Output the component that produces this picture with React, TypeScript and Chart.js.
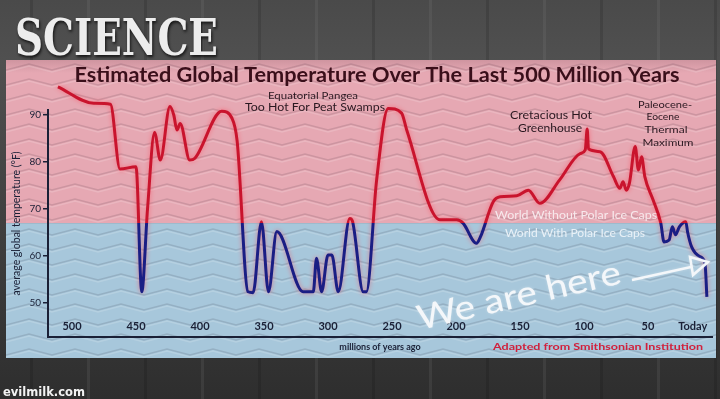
import { useEffect, useRef } from 'react';
import { Chart, registerables } from 'chart.js';

Chart.register(...registerables);

// ---------- data ----------
const millionsOfYearsAgo = [
  511, 483, 470, 462.5, 450, 445.5, 441, 435.5, 431, 423.5, 420.5, 418, 415.5, 408, 404,
  383, 375, 371, 362.5, 358.5, 352, 346.5, 340, 319.5, 311.5, 309, 305, 300, 297, 292,
  283, 281, 272.5, 270, 262, 253, 242.5, 238.5, 212.5, 199.5, 194.5, 184, 181, 171, 165.5,
  152.5, 143.5, 134.5, 119, 103, 99, 97.5, 96.5, 87.5, 77, 72, 69.5, 67, 64.5, 60, 57.5,
  55, 52.5, 46, 40, 37.5, 33.5, 31, 28.5, 25.5, 20.5, 19, 16, 9.5, 5.5, 4,
];
const temperatureF = [
  96, 92.5, 92.3, 78.5, 79, 52.4, 70, 86.3, 80.4, 91.8, 90, 86.8, 88.2, 80.4, 80.8,
  90.8, 89.3, 84.5, 52.4, 52.2, 67.3, 52.4, 65.2, 52.4, 52.4, 59.5, 52.4, 60.2, 60.2, 52.4,
  68, 67.5, 52.4, 52.4, 76.2, 91.4, 90.4, 86.8, 67.7, 67.7, 67, 62.7, 64, 71.5, 72.6,
  72.8, 74, 71.2, 76.2, 81.8, 82.6, 87, 82.8, 82.2, 76.9, 74.4, 75.8, 74, 75.5, 83.3, 78.3,
  81.1, 76.9, 71.9, 67, 63, 63.4, 66.2, 64.5, 66.2, 67.3, 65, 62, 59.9, 58.5, 51.3,
];
const xTickValues = [500, 450, 400, 350, 300, 250, 200, 150, 100, 50];
const todayTickValue = 15;
const todayLabel = 'Today';
const yTickValues = [50, 60, 70, 80, 90];
const iceCapThresholdF = 67;

const titleText = 'Estimated Global Temperature Over The Last 500 Million Years';
const xAxisTitle = 'millions of years ago';
const yAxisTitle = 'average global temperature (°F)';
const sourceText = 'Adapted from Smithsonian Institution';

// ---------- styles ----------
const RED = '#c9142d';
const NAVY = '#1a1e84';
const PINK = '#e6a8b3';
const BLUE = '#a7c7db';
const INK = '#1a2036';
const PANEL = { left: 6, top: 60, right: 716, bottom: 358 };

function fitText(
  ctx: CanvasRenderingContext2D,
  text: string,
  x: number,
  y: number,
  width: number,
  font: string,
  color: string,
  align: CanvasTextAlign = 'center',
  angle = 0,
) {
  ctx.save();
  ctx.font = font;
  ctx.fillStyle = color;
  ctx.textBaseline = 'alphabetic';
  ctx.textAlign = align;
  const w = ctx.measureText(text).width || 1;
  ctx.translate(x, y);
  ctx.rotate(angle);
  ctx.scale(width / w, 1);
  ctx.fillText(text, 0, 0);
  ctx.restore();
}

const backdropPlugin = {
  id: 'backdrop',
  beforeDraw(chart: any) {
    const { ctx, width, height, scales } = chart;
    const yIce = scales.y.getPixelForValue(iceCapThresholdF);
    ctx.save();
    const g = ctx.createLinearGradient(0, 0, 0, height);
    g.addColorStop(0, '#4a4a4a');
    g.addColorStop(0.15, '#505050');
    g.addColorStop(1, '#2e2e2e');
    ctx.fillStyle = g;
    ctx.fillRect(0, 0, width, height);
    // vertical streaks
    ctx.globalAlpha = 0.12;
    for (let x = 30; x < width; x += 57) {
      ctx.fillStyle = (x / 57) % 2 < 1 ? '#000' : '#999';
      ctx.fillRect(x, 0, 3, height);
    }
    ctx.globalAlpha = 1;

    // panel
    const pw = PANEL.right - PANEL.left;
    const pg = ctx.createLinearGradient(0, PANEL.top, 0, yIce);
    pg.addColorStop(0, '#cf95a0');
    pg.addColorStop(0.08, PINK);
    pg.addColorStop(1, PINK);
    ctx.fillStyle = pg;
    ctx.fillRect(PANEL.left, PANEL.top, pw, yIce - PANEL.top);
    ctx.fillStyle = BLUE;
    ctx.fillRect(PANEL.left, yIce, pw, PANEL.bottom - yIce);

    // zigzag texture
    ctx.beginPath();
    ctx.rect(PANEL.left, PANEL.top, pw, PANEL.bottom - PANEL.top);
    ctx.clip();
    const drawRows = (color: string, dy: number) => {
      ctx.strokeStyle = color;
      ctx.lineWidth = 1.6;
      for (let ry = PANEL.top + 10; ry < PANEL.bottom + 12; ry += 15) {
        ctx.beginPath();
        let k = 0;
        for (let x = PANEL.left - 46; x < PANEL.right + 46; x += 23, k++) {
          const y = ry + dy + (k % 2 === 0 ? 0 : -6);
          if (k === 0) ctx.moveTo(x, y);
          else ctx.lineTo(x, y);
        }
        ctx.stroke();
      }
    };
    drawRows('rgba(255,255,255,0.16)', 2);
    drawRows('rgba(30,20,40,0.13)', 0);
    ctx.restore();

    // SCIENCE heading
    ctx.save();
    ctx.shadowColor = 'rgba(0,0,0,0.75)';
    ctx.shadowBlur = 3;
    ctx.shadowOffsetX = 1;
    ctx.shadowOffsetY = 2;
    fitText(ctx, 'SCIENCE', 15, 55, 203, 'bold 50px "DejaVu Serif"', '#ededed', 'left');
    ctx.restore();

    fitText(ctx, 'evilmilk.com', 3, 396, 82, 'bold 12px "DejaVu Sans"', '#f2f2f2', 'left');
  },
  beforeDatasetsDraw(chart: any) {
    const { ctx } = chart;
    ctx.save();
    ctx.shadowColor = 'rgba(255,60,80,0.55)';
    ctx.shadowBlur = 5;
  },
  afterDatasetsDraw(chart: any) {
    chart.ctx.restore();
  },
  afterDraw(chart: any) {
    const { ctx } = chart;
    ctx.save();
    // main title
    fitText(ctx, titleText, 377, 82, 605, 'bold 20px Lato', '#3a0f1a');
    // annotations
    const dark = '#2a1820';
    fitText(ctx, 'Equatorial Pangea', 313, 99, 90, '10px Lato', dark);
    fitText(ctx, 'Too Hot For Peat Swamps', 315, 111, 140, '11px Lato', dark);
    fitText(ctx, 'Cretacious Hot', 551, 119, 82, '10.5px Lato', dark);
    fitText(ctx, 'Greenhouse', 550, 132, 64, '10.5px Lato', dark);
    fitText(ctx, 'Paleocene-', 665, 108, 54, '10px Lato', dark);
    fitText(ctx, 'Eocene', 663, 120, 33, '10px Lato', dark);
    fitText(ctx, 'Thermal', 666, 133, 43, '10px Lato', dark);
    fitText(ctx, 'Maximum', 668, 146, 51, '10px Lato', dark);
    fitText(ctx, 'World Without Polar Ice Caps', 576, 219, 162, '11px Lato', '#f7e9ec');
    fitText(ctx, 'World With Polar Ice Caps', 575, 237, 140, '11px Lato', '#e9f1f7');
    fitText(ctx, sourceText, 598, 350, 210, 'bold 9.5px Lato', '#d0203c');

    // "We are here" + arrow
    ctx.shadowColor = 'rgba(255,255,255,0.35)';
    ctx.shadowBlur = 3;
    fitText(ctx, 'We are here', 420, 330, 208, '34px Lato', '#f4f7fa', 'left', (-13 * Math.PI) / 180);
    ctx.strokeStyle = '#f4f7fa';
    ctx.lineWidth = 2.5;
    ctx.lineJoin = 'miter';
    ctx.beginPath();
    ctx.moveTo(632, 280);
    ctx.lineTo(691, 267);
    ctx.stroke();
    ctx.beginPath();
    ctx.moveTo(690, 257);
    ctx.lineTo(708, 262);
    ctx.lineTo(693, 275);
    ctx.closePath();
    ctx.stroke();
    ctx.restore();
  },
};

export default function App() {
  const canvasRef = useRef<HTMLCanvasElement | null>(null);

  useEffect(() => {
    document.body.style.margin = '0';
    const canvas = canvasRef.current;
    if (!canvas) return;

    const lineColor = (c: any) => {
      const chart = c.chart;
      const { chartArea, scales } = chart;
      if (!chartArea) return RED;
      const y = scales.y.getPixelForValue(iceCapThresholdF);
      const s = Math.min(Math.max(y / chart.height, 0), 1);
      const g = chart.ctx.createLinearGradient(0, 0, 0, chart.height);
      g.addColorStop(0, RED);
      g.addColorStop(s, RED);
      g.addColorStop(s, NAVY);
      g.addColorStop(1, NAVY);
      return g;
    };

    const chart = new Chart(canvas, {
      type: 'line',
      data: {
        datasets: [
          {
            label: 'Estimated global temperature (°F)',
            data: millionsOfYearsAgo.map((t, i) => ({ x: t, y: temperatureF[i] })),
            borderColor: lineColor,
            borderWidth: 3,
            pointRadius: 0,
            fill: false,
            cubicInterpolationMode: 'monotone',
            clip: false as any,
          },
        ],
      },
      options: {
        responsive: false,
        animation: false,
        events: [],
        layout: { padding: { left: 8, right: 8, top: 110, bottom: 42 } },
        plugins: {
          legend: { display: false },
          tooltip: { enabled: false },
          title: { display: false },
        },
        scales: {
          x: {
            type: 'linear',
            reverse: true,
            min: 0,
            max: 518.75,
            afterBuildTicks: (s: any) => {
              s.ticks = [...xTickValues, todayTickValue].map((v) => ({ value: v }));
            },
            afterFit: (s: any) => {
              s.height = 20;
            },
            ticks: {
              autoSkip: false,
              maxRotation: 0,
              mirror: true,
              padding: 3.5,
              color: INK,
              font: { family: 'Lato', size: 11, weight: 'bold' },
              callback: (v: any) => (v === todayTickValue ? todayLabel : String(v)),
            },
            grid: { display: true, drawOnChartArea: false, drawTicks: false },
            border: { display: true, color: INK, width: 2 },
            title: {
              display: true,
              text: xAxisTitle,
              color: INK,
              font: { family: 'Lato', size: 9, weight: 'bold' },
              padding: { top: 0, bottom: 4.5 },
            },
          },
          y: {
            type: 'linear',
            min: 42.77,
            max: 91.06,
            afterBuildTicks: (s: any) => {
              s.ticks = yTickValues.map((v) => ({ value: v }));
            },
            afterFit: (s: any) => {
              s.width = 40;
            },
            ticks: {
              padding: 2,
              color: INK,
              font: { family: 'Lato', size: 10 },
            },
            grid: {
              display: true,
              drawOnChartArea: false,
              drawTicks: true,
              tickLength: 5,
              color: INK,
              lineWidth: 1.5,
            },
            border: { display: true, color: INK, width: 2 },
            title: {
              display: true,
              text: yAxisTitle,
              color: INK,
              font: { family: 'Lato', size: 10.5 },
              padding: { top: 2.7, bottom: 0 },
            },
          },
        },
      },
      plugins: [backdropPlugin],
    });

    return () => chart.destroy();
  }, []);

  return (
    <div style={{ width: 720, height: 399, position: 'relative', overflow: 'hidden' }}>
      <canvas ref={canvasRef} width={720} height={399} style={{ display: 'block' }} />
    </div>
  );
}
